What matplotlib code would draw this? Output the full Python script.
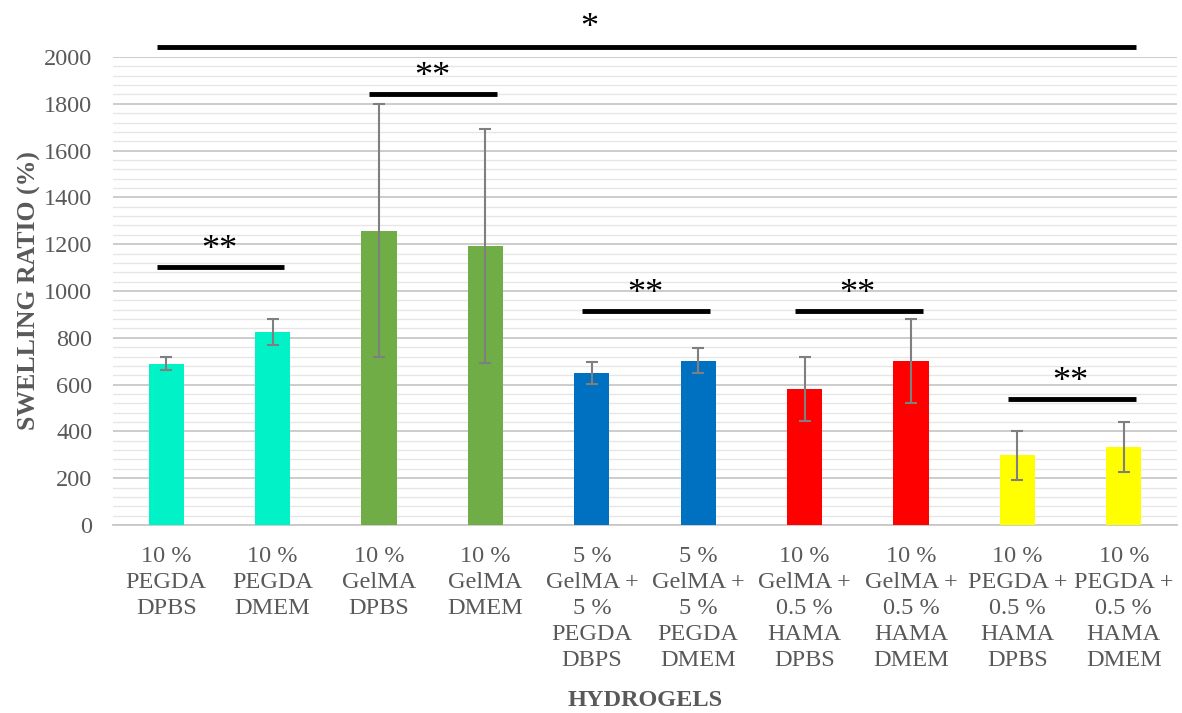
import numpy as np
import matplotlib.pyplot as plt
from matplotlib.ticker import MultipleLocator

plt.rcParams['font.family'] = ['Liberation Serif', 'DejaVu Serif']

labels = ["10 %\nPEGDA\nDPBS", "10 %\nPEGDA\nDMEM",
          "10 %\nGelMA\nDPBS", "10 %\nGelMA\nDMEM",
          "5 %\nGelMA +\n5 %\nPEGDA\nDBPS", "5 %\nGelMA +\n5 %\nPEGDA\nDMEM",
          "10 %\nGelMA +\n0.5 %\nHAMA\nDPBS", "10 %\nGelMA +\n0.5 %\nHAMA\nDMEM",
          "10 %\nPEGDA +\n0.5 %\nHAMA\nDPBS", "10 %\nPEGDA +\n0.5 %\nHAMA\nDMEM"]
swelling = [690, 825, 1258, 1192, 650, 702, 580, 702, 297, 332]
sd = [28, 57, 540, 500, 48, 53, 137, 180, 105, 107]
colors = ["#00F2C6", "#00F2C6", "#70AD47", "#70AD47", "#0070C0", "#0070C0",
          "#FF0000", "#FF0000", "#FFFF00", "#FFFF00"]

# significance bars: (first bar, last bar, height, mark, mark x)
sig_pairs = [(0, 1, 1103, "**", 0.5), (2, 3, 1842, "**", 2.5),
             (4, 5, 915, "**", 4.5), (6, 7, 915, "**", 6.5),
             (8, 9, 538, "**", 8.5), (0, 9, 2043, "*", 3.98)]

fig = plt.figure(figsize=(11.82, 7.13), dpi=100)
ax = fig.add_axes([0.0956, 0.2637, 0.9002, 0.6563])

x = np.arange(len(labels))
ax.bar(x, swelling, width=0.33, color=colors, zorder=3)
ax.errorbar(x, swelling, yerr=sd, fmt='none', ecolor="#7F7F7F",
            elinewidth=1.5, capsize=4, capthick=1.5, zorder=4)

for a, b, h, mark, mx in sig_pairs:
    ax.plot([a - 0.09, b + 0.11], [h, h], color="black", lw=3.5,
            solid_capstyle='butt', clip_on=False, zorder=5)
    off = 80 if mark == "*" else 70
    ax.text(mx, h + off, mark, ha='center', va='center',
            fontsize=26, clip_on=False)

ax.set_xlim(-0.5, len(labels) - 0.5)
ax.set_ylim(0, 2000)
ax.yaxis.set_major_locator(MultipleLocator(200))
ax.yaxis.set_minor_locator(MultipleLocator(40))
ax.grid(axis='y', which='major', color="#C8C8C8", lw=1.3, zorder=0)
ax.grid(axis='y', which='minor', color="#E6E6E6", lw=1.0, zorder=0)
ax.set_axisbelow(True)

for s in ['top', 'right', 'left']:
    ax.spines[s].set_visible(False)
ax.spines['bottom'].set_color("#C8C8C8")
ax.spines['bottom'].set_linewidth(1.3)

ax.set_xticks(x)
ax.set_xticklabels(labels, fontsize=17.5, color="#595959", linespacing=1.31)
ax.tick_params(axis='both', length=0, labelcolor="#595959")
ax.tick_params(axis='y', labelsize=17.5)
ax.tick_params(axis='x', pad=15)
ax.tick_params(axis='y', which='minor', length=0)
ax.tick_params(axis='y', pad=15)

ax.set_ylabel("SWELLING RATIO (%)", fontsize=18.5, fontweight='bold',
              color="#595959", labelpad=2)
ax.set_xlabel("HYDROGELS", fontsize=17.5, fontweight='bold', color="#595959",
              labelpad=14)

fig.savefig("out.png", dpi=100)
